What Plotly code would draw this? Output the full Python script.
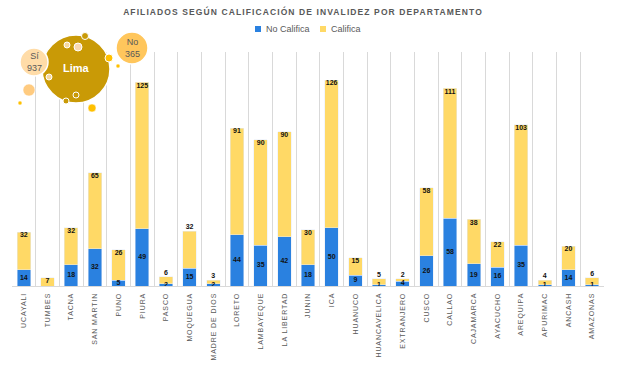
import plotly.graph_objects as go

# ---------------- data ----------------
departamentos = ["UCAYALI", "TUMBES", "TACNA", "SAN MARTIN", "PUNO", "PIURA", "PASCO",
                 "MOQUEGUA", "MADRE DE DIOS", "LORETO", "LAMBAYEQUE", "LA LIBERTAD",
                 "JUNIN", "ICA", "HUANUCO", "HUANCAVELICA", "EXTRANJERO", "CUSCO",
                 "CALLAO", "CAJAMARCA", "AYACUCHO", "AREQUIPA", "APURIMAC", "ANCASH",
                 "AMAZONAS"]
no_califica = [14, 0, 18, 32, 5, 49, 2, 15, 2, 44, 35, 42, 18, 50, 9, 1, 4, 26, 58, 19,
               16, 35, 1, 14, 1]
califica = [32, 7, 32, 65, 26, 125, 6, 32, 3, 91, 90, 90, 30, 126, 15, 5, 2, 58, 111, 38,
            22, 103, 4, 20, 6]
series_names = ["No Califica", "Califica"]
lima_si = 937
lima_no = 365
# labels that Excel drew above the bar instead of inside its end
califica_label_outside = {"PASCO", "MOQUEGUA", "MADRE DE DIOS", "HUANCAVELICA",
                          "EXTRANJERO", "APURIMAC", "AMAZONAS"}

BLUE = "#2A81E0"
YELLOW = "#FFD966"
GRAY = "#595959"
FONT = "Liberation Sans"

W, H = 618, 365
ML, MR, MT, MB = 12, 14, 52, 79
PW, PH = W - ML - MR, H - MT - MB

fig = go.Figure()
fig.add_bar(name=series_names[0], x=departamentos, y=no_califica, marker_color=BLUE,
            hoverinfo="x+y", showlegend=False)
fig.add_bar(name=series_names[1], x=departamentos, y=califica, marker_color=YELLOW,
            hoverinfo="x+y", showlegend=False)

lab_font = dict(family=FONT, size=7, color="#111111", weight="bold")
bx = [d for d, v in zip(departamentos, no_califica) if v > 0]
by = [v / 2 for v in no_califica if v > 0]
bt = [str(v) for v in no_califica if v > 0]
fig.add_scatter(x=bx, y=by, text=bt, mode="text", textposition="middle center",
                textfont=lab_font, showlegend=False, hoverinfo="skip")
totals = [a + b for a, b in zip(no_califica, califica)]
pos = ["top center" if d in califica_label_outside else "bottom center"
       for d in departamentos]
fig.add_scatter(x=departamentos, y=totals, text=[str(v) for v in califica], mode="text",
                textposition=pos, textfont=lab_font, showlegend=False, hoverinfo="skip")

# ---- helpers in pixel coordinates ----
def px2paper(X, Y):
    return (X - ML) / PW, (MT + PH - Y) / PH

def circle(cx, cy, r, fill, line="white", lw=1):
    x0, y0 = px2paper(cx - r, cy + r)
    x1, y1 = px2paper(cx + r, cy - r)
    fig.add_shape(type="circle", xref="paper", yref="paper", x0=x0, y0=y0, x1=x1, y1=y1,
                  fillcolor=fill, line=dict(color=line, width=lw), layer="above")

def rect(X0, Y0, X1, Y1, fill):
    x0, y0 = px2paper(X0, Y1)
    x1, y1 = px2paper(X1, Y0)
    fig.add_shape(type="rect", xref="paper", yref="paper", x0=x0, y0=y0, x1=x1, y1=y1,
                  fillcolor=fill, line=dict(width=0), layer="above")

def ptext(X, Y, txt, size, color, weight="normal", xanchor="center"):
    xp, yp = px2paper(X, Y)
    fig.add_annotation(xref="paper", yref="paper", x=xp, y=yp, text=txt, showarrow=False,
                       xanchor=xanchor, yanchor="middle",
                       font=dict(family=FONT, size=size, color=color, weight=weight),
                       align="center")

# ---- decorative bubbles (Lima) ----
GOLD = "#C99A06"
circle(76, 69, 34, GOLD, lw=1.5)
circle(34, 62, 14, "#FFDCA8", lw=1.5)
circle(132, 48, 16, "#FFC65C", lw=1.5)
circle(85, 36, 3.5, GOLD)
circle(67, 45, 3, "#F6D9A0")
circle(78, 47, 4, "#F9D9B0")
circle(109, 58, 4, "#FFC000")
circle(118, 66, 2, "#FFC000", lw=0.5)
circle(49, 77, 3, "#F6D9A0")
circle(29, 90, 6, "#FFCB80", lw=0.5)
circle(20, 103, 2, "#FFC000", lw=0.5)
circle(66, 101, 3, GOLD)
circle(76, 95, 3, GOLD)
circle(92, 108, 4, "#FFC000", lw=0.5)

ptext(76, 68, "Lima", 11, "white", "bold")
ptext(34, 62, f"Sí<br>{lima_si}", 9, GRAY)
ptext(132, 48, f"No<br>{lima_no}", 9, GRAY)

# ---- legend (small squares like Excel) ----
rect(255, 26, 261, 32, BLUE)
ptext(264, 29, series_names[0], 9, GRAY, xanchor="left")
rect(320, 26, 326, 32, YELLOW)
ptext(329, 29, series_names[1], 9, GRAY, xanchor="left")

TITLE = "AFILIADOS SEGÚN CALIFICACIÓN DE INVALIDEZ POR DEPARTAMENTO"
fig.update_layout(
    width=W, height=H,
    margin=dict(l=ML, r=MR, t=MT, b=MB, autoexpand=False),
    barmode="stack", bargap=0.43,
    plot_bgcolor="white", paper_bgcolor="white",
    title=dict(text=f'<span style="letter-spacing:1.1px">{TITLE}</span>',
               x=(303 - ML) / PW, xref="paper", xanchor="center", y=(H - 12) / H,
               yanchor="middle",
               font=dict(family=FONT, size=8.5, color=GRAY, weight="bold")),
    showlegend=False,
)
fig.update_xaxes(type="category", range=[-0.5, len(departamentos) - 0.5],
                 tickson="boundaries", showgrid=True, gridcolor="#D9D9D9",
                 gridwidth=1, showline=True, linecolor="#D9D9D9", ticks="",
                 tickmode="array", tickvals=departamentos,
                 ticktext=[f'<span style="letter-spacing:0.9px">{d}</span>' for d in departamentos],
                 tickangle=-90, automargin=False, ticklabelstandoff=3,
                 tickfont=dict(family=FONT, size=7, color=GRAY))
fig.update_yaxes(range=[0, 200], showgrid=False, showticklabels=False, zeroline=False,
                 showline=False, automargin=False)

fig.write_html("out.html", config={"displayModeBar": False},
               post_script="document.body.style.margin='0';")
